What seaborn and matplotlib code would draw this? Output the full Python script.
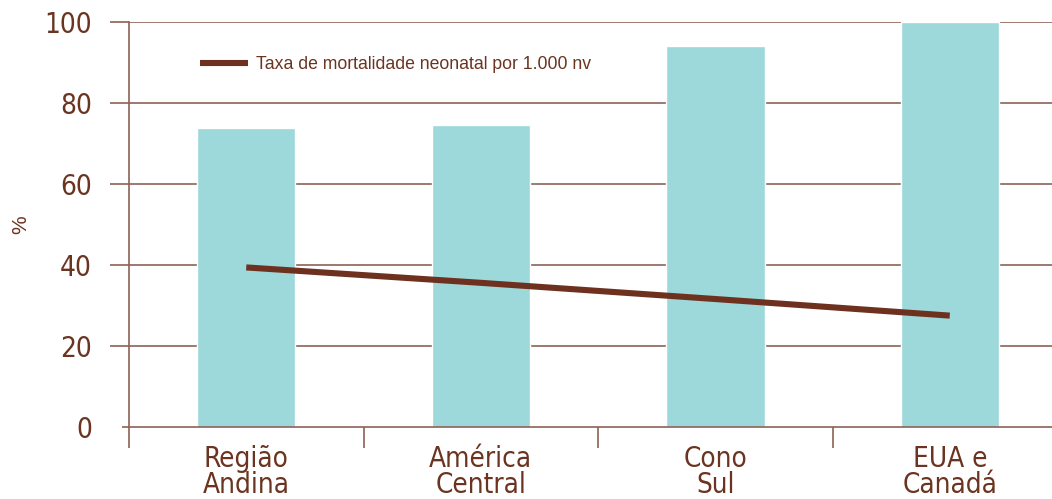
import matplotlib
matplotlib.use("Agg")
import matplotlib.pyplot as plt
from matplotlib import font_manager
from matplotlib.ticker import FixedLocator
import seaborn as sns
import pandas as pd

# Data
regions = ["Região\nAndina", "América\nCentral", "Cono\nSul", "EUA e\nCanadá"]
coverage = [73.9, 74.6, 94.1, 100.0]          # bars, %
neonatal_rate = [39.4, 35.6, 31.6, 27.5]      # line, per 1.000 nv
line_label = "Taxa de mortalidade neonatal por 1.000 nv"
y_ticks = [0, 20, 40, 60, 80, 100]

BAR = "#9dd8da"
LINE = "#6e3120"
TEXT = "#6b3420"
RULE = "#8c6255"

sns.set_theme(style="white")
plt.rcParams["font.family"] = ["Liberation Sans", "DejaVu Sans"]

STRETCH_RANK = {"ultra-condensed": 0, "extra-condensed": 1, "condensed": 2,
                "semi-condensed": 3}


def condensed_font():
    """Pick the narrowest installed regular-weight condensed face, if any."""
    ranked = []
    for f in font_manager.fontManager.ttflist:
        stretch = f.stretch
        if isinstance(stretch, (int, float)):
            srank = 0 if stretch <= 500 else (1 if stretch <= 625 else (2 if stretch <= 750 else (3 if stretch < 1000 else 9)))
        else:
            srank = STRETCH_RANK.get(str(stretch).lower(), 9)
        nm = f.name.lower()
        path = f.fname.lower()
        if srank == 9 and ("narrow" in nm or "narrow" in path or "condensed" in nm
                           or "condensed" in path):
            srank = 2
        if srank == 9 or f.style != "normal" or "mono" in nm:
            continue
        w = f.weight if isinstance(f.weight, int) else 400
        ranked.append((abs(w - 400) > 100, srank, abs(w - 400), f.fname))
    if ranked:
        ranked.sort()
        return font_manager.FontProperties(fname=ranked[0][3])
    return font_manager.FontProperties(family=["Liberation Sans", "DejaVu Sans"])


NARROW = condensed_font()

fig = plt.figure(figsize=(10.52, 4.99), dpi=100)
ax = fig.add_axes([129 / 1052, 72 / 499, 1 - 129 / 1052, 405 / 499])

df = pd.DataFrame({"region": regions, "coverage": coverage})
sns.barplot(data=df, x="region", y="coverage", color=BAR, width=0.42,
            saturation=1, ax=ax, zorder=2)

line_df = pd.DataFrame({"pos": range(len(regions)), "rate": neonatal_rate})
sns.lineplot(data=line_df, x="pos", y="rate", color=LINE, linewidth=4.4,
             label=line_label, ax=ax, zorder=3, solid_capstyle="butt")

ax.set_xlim(-0.5, 3.436)
ax.set_ylim(0, 100)
ax.set_xlabel("")
ax.set_ylabel("%", color=TEXT, fontsize=15)
ax.yaxis.set_label_coords(-99 / 923, 0.5)

# horizontal rules
for v in y_ticks[1:]:
    ax.axhline(v, color=RULE, lw=1.2, zorder=1)

for s in ["top", "right"]:
    ax.spines[s].set_visible(False)
for s in ["left", "bottom"]:
    ax.spines[s].set_color(RULE)
    ax.spines[s].set_linewidth(1.2)
    ax.spines[s].set_zorder(4)

# y axis
ax.set_yticks(y_ticks)
ax.set_yticklabels([str(v) for v in y_ticks], fontproperties=NARROW, color=TEXT)
for lab in ax.get_yticklabels():
    lab.set_fontsize(20)
ax.tick_params(axis="y", which="major", direction="out", length=13.7, width=1.2,
               color=RULE, pad=13, left=True)
ax.yaxis.get_major_ticks()[0].tick1line.set_markersize(5)

# x axis: labels centred, separators as minor ticks
ax.set_xticks(range(len(regions)))
ax.set_xticklabels(regions, fontproperties=NARROW, color=TEXT, linespacing=0.92)
for lab in ax.get_xticklabels():
    lab.set_fontsize(20)
ax.tick_params(axis="x", which="major", length=0, pad=13, bottom=True)
ax.xaxis.set_minor_locator(FixedLocator([-0.5, 0.5, 1.5, 2.5]))
ax.tick_params(axis="x", which="minor", direction="out", length=15, width=1.2,
               color=RULE, bottom=True)

leg = ax.legend(loc="upper left", bbox_to_anchor=(71 / 923, 1 - 34 / 405),
                frameon=False, fontsize=12.7, handlelength=2.7, handletextpad=0.45,
                borderaxespad=0, borderpad=0)
for t in leg.get_texts():
    t.set_color(TEXT)
for h in leg.get_lines():
    h.set_linewidth(4.4)

fig.savefig("out.png", dpi=100, facecolor="white")
